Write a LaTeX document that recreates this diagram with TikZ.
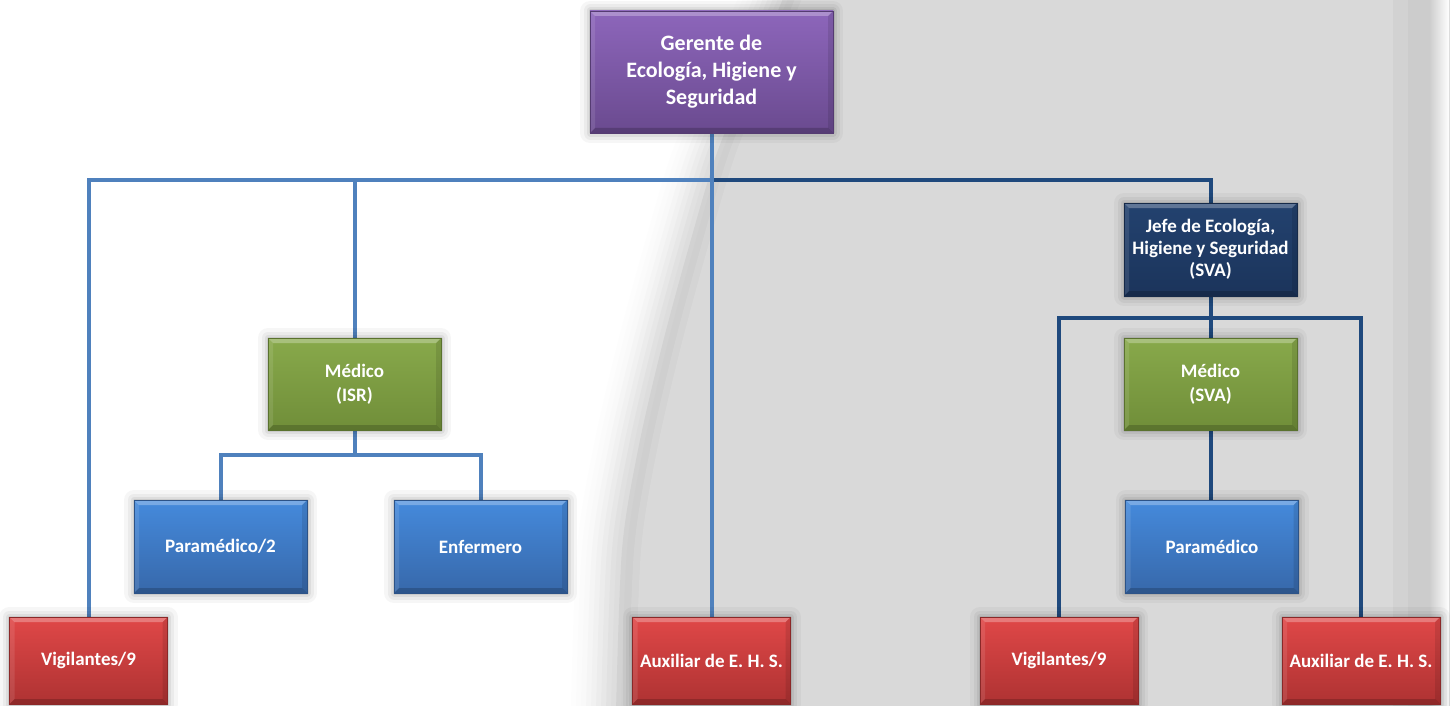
\documentclass[tikz,border=0pt]{standalone}
\usepackage{fontspec}
\setmainfont{Carlito}
\usetikzlibrary{calc}
\pgfdeclarelayer{bg}
\pgfsetlayers{bg,main}

\definecolor{pagegray}{HTML}{D9D9D9}
\definecolor{pagedark}{HTML}{CFCFCF}
\definecolor{linelight}{HTML}{4F81BD}
\definecolor{linedark}{HTML}{1F497D}
\definecolor{purpletop}{HTML}{8D66BB}
\definecolor{purplebot}{HTML}{6A4A8F}
\definecolor{navytop}{HTML}{23426F}
\definecolor{navybot}{HTML}{1B345B}
\definecolor{greentop}{HTML}{88A94B}
\definecolor{greenbot}{HTML}{708E39}
\definecolor{bluetop}{HTML}{458ADC}
\definecolor{bluebot}{HTML}{3768AA}
\definecolor{redtop}{HTML}{E04848}
\definecolor{redbot}{HTML}{AE3232}

\tikzset{
  softshadow/.style={
    preaction={draw=black,draw opacity=.035,line width=20pt,line join=round},
    preaction={draw=black,draw opacity=.045,line width=13pt,line join=round},
    preaction={draw=black,draw opacity=.06,line width=7pt,line join=round},
    preaction={draw=black,draw opacity=.08,line width=3pt,line join=round}},
  bevel/.style={
    path picture={
      \fill[white,opacity=.28] (path picture bounding box.north west) -- (path picture bounding box.north east)
        -- ([xshift=-5pt,yshift=-5pt]path picture bounding box.north east)
        -- ([xshift=5pt,yshift=-5pt]path picture bounding box.north west) -- cycle;
      \fill[white,opacity=.10] (path picture bounding box.north west) -- ([xshift=5pt,yshift=-5pt]path picture bounding box.north west)
        -- ([xshift=5pt,yshift=5pt]path picture bounding box.south west) -- (path picture bounding box.south west) -- cycle;
      \fill[black,opacity=.10] (path picture bounding box.north east) -- ([xshift=-5pt,yshift=-5pt]path picture bounding box.north east)
        -- ([xshift=-5pt,yshift=5pt]path picture bounding box.south east) -- (path picture bounding box.south east) -- cycle;
      \fill[black,opacity=.18] (path picture bounding box.south west) -- (path picture bounding box.south east)
        -- ([xshift=-5pt,yshift=5pt]path picture bounding box.south east)
        -- ([xshift=5pt,yshift=5pt]path picture bounding box.south west) -- cycle;
    }},
  orgbox/.style 2 args={rectangle, align=center, text=white, inner sep=2pt,
    font=\fontsize{19}{24}\selectfont\bfseries,
    top color=#1, bottom color=#2, draw=#2!80!black, line width=.6pt,
    softshadow, bevel},
  chiefbox/.style={orgbox={purpletop}{purplebot}, minimum width=243pt, minimum height=122pt,
    font=\fontsize{22}{27}\selectfont\bfseries},
  navybox/.style={orgbox={navytop}{navybot}, minimum width=173pt, minimum height=93pt,
    font=\fontsize{19}{22}\selectfont\bfseries},
  greenbox/.style={orgbox={greentop}{greenbot}, minimum width=173pt, minimum height=92pt},
  bluebox/.style={orgbox={bluetop}{bluebot}, minimum width=173pt, minimum height=93pt},
  redbox/.style={orgbox={redtop}{redbot}, minimum width=158pt, minimum height=87pt},
  lightlink/.style={draw=linelight, line width=4pt},
  darklink/.style={draw=linedark, line width=4pt},
}

\begin{document}
\begin{tikzpicture}[x=1pt,y=-1pt]
\useasboundingbox (0,0) rectangle (1450,706);

% ---- boxes ----
\node[chiefbox] (ger) at (711.5,72) {Gerente de\\Ecología, Higiene y\\Seguridad};

\node[greenbox] (misr) at (354.5,384) {Médico\\(ISR)};
\node[bluebox] (par1) at (220.5,546.5) {Paramédico/2};
\node[bluebox] (enf) at (480.5,546.5) {Enfermero};

\node[redbox] (vig1) at (88.5,660.5) {Vigilantes/9};
\node[redbox] (aux1) at (711.5,660.5) {Auxiliar de E. H. S.};

\node[navybox] (jefe) at (1210.5,249.5) {Jefe de Ecología,\\Higiene y Seguridad\\(SVA)};
\node[greenbox] (msva) at (1210.5,384) {Médico\\(SVA)};
\node[bluebox] (par2) at (1212,546.5) {Paramédico};
\node[redbox] (vig2) at (1059,660.5) {Vigilantes/9};
\node[redbox] (aux2) at (1361,660.5) {Auxiliar de E. H. S.};

% junction points of the horizontal bars
\coordinate (bustop) at (711.5,180);
\coordinate (busisr) at (354.5,455);
\coordinate (busjefe) at (1210.5,318);

\begin{pgfonlayer}{bg}
  % page background: white sheet with a grey panel and a soft curled edge
  \fill[white] (0,0) rectangle (1450,706);
  \def\panel{plot[smooth] coordinates {(770,-6) (742,60) (703,150) (673,250) (646,350) (623,450) (607,550) (601,712)}
      -- (1430,712) -- (1430,-6) -- cycle}
  \foreach \s/\c in {30/5,25/10,20/17,15/26,10/37,5/50,0/64,-5/78,-10/90}{
    \fill[pagegray!\c!white, xshift=-\s pt] \panel;
  }
  \fill[pagedark!70!pagegray, xshift=15pt] \panel;
  \fill[pagedark, xshift=20pt] \panel;
  \fill[pagedark!50!pagegray, xshift=27pt] \panel;
  \fill[pagegray, xshift=34pt] \panel;
  \fill[pagegray!97!black] (1393,0) rectangle (1408,706);
  \fill[pagegray!94!black] (1408,0) rectangle (1429,706);
  \shade[left color=pagegray!94!black, right color=white] (1429,0) rectangle (1449,706);

  % connectors
  \draw[lightlink] (vig1.north) |- (bustop);
  \draw[lightlink] (misr.north) -- (misr.north |- bustop);
  \draw[darklink] ([xshift=2pt]bustop) -| (jefe.north);
  \draw[lightlink] (ger.south) -- (aux1.north);

  \draw[lightlink] (misr.south) -- (busisr);
  \draw[lightlink] (par1.north) |- (busisr) -| (enf.north);

  \draw[darklink] (vig2.north) |- (busjefe) -| (aux2.north);
  \draw[darklink] (jefe.south) -- (msva.north);
  \draw[darklink] (msva.south) -- (msva.south |- par2.north);
\end{pgfonlayer}
\end{tikzpicture}
\end{document}
